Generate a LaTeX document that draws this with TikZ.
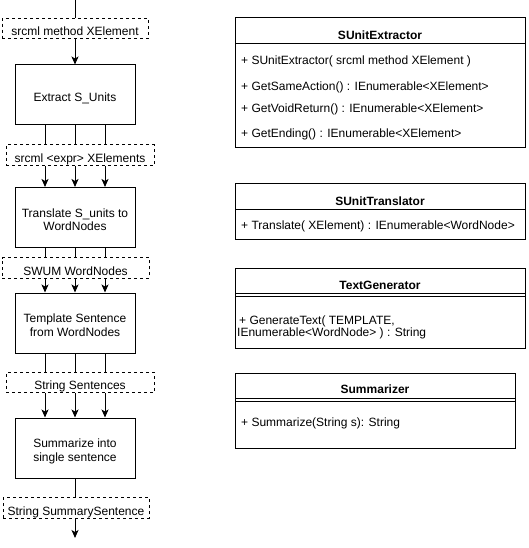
\documentclass[tikz,border=0pt]{standalone}
\usepackage{fontspec}
\setmainfont{Liberation Sans}
\usetikzlibrary{arrows.meta}
\newcommand\uplift{\rule[-3pt]{0pt}{18.5pt}}
\newcommand\downlift{\rule[-3pt]{0pt}{3pt}}
\tikzset{
  stage/.style={draw, line width=1pt, minimum width=120pt, minimum height=60pt, align=center, inner sep=0pt},
  data/.style={draw, line width=1pt, dash pattern=on 3pt off 3pt, inner sep=0pt,
    execute at begin node={\rule[-3pt]{0pt}{20.5pt}}},
  flow/.style={line width=1pt, -{Stealth[length=8pt,width=7pt,inset=2pt]}},
  pipe/.style={line width=1pt},
  klass/.style={draw, line width=1pt, inner sep=0pt},
  member/.style={anchor=west, inner sep=0pt, align=left},
}
\begin{document}
\begin{tikzpicture}[x=1pt, y=-1pt, font=\fontsize{12}{13.5}\selectfont]
            \useasboundingbox (0,0) rectangle (528,548);
            % pipeline
            \coordinate (start) at (75,0);
            \node[data, minimum width=146pt, minimum height=19pt] (in1) at (75,28.5) {srcml method XElement};
            \node[stage] (ext) at (75,95) {\uplift Extract S\_Units\downlift};
            \node[data, minimum width=148pt, minimum height=21pt] (in2) at (80,155.5) {srcml <expr> XElements};
            \node[stage] (trn) at (75,217.5) {\uplift Translate S\_units to\\WordNodes\downlift};
            \node[data, minimum width=147pt, minimum height=20pt] (in3) at (75.5,268) {SWUM WordNodes};
            \node[stage] (tpl) at (75,323) {\uplift Template Sentence\\from WordNodes\downlift};
            \node[data, minimum width=148pt, minimum height=20pt] (in4) at (80,382.5) {String Sentences};
            \node[stage] (sum) at (75,448) {\uplift Summarize into\\single sentence\downlift};
            \node[data, minimum width=146pt, minimum height=20pt] (in5) at (76,508) {String SummarySentence};
            \coordinate (finish) at (75,538);
            \draw[pipe] (start) -- (in1.north -| start);
            \draw[flow] (ext.north |- in1.south) -- (ext.north);
            \foreach \dx in {-30,0,30} {
                \draw[pipe] ([xshift=\dx pt]ext.south) -- ([xshift=\dx pt]ext.south |- in2.north);
                \draw[flow] ([xshift=\dx pt]trn.north |- in2.south) -- ([xshift=\dx pt]trn.north);
                \draw[pipe] ([xshift=\dx pt]trn.south) -- ([xshift=\dx pt]trn.south |- in3.north);
                \draw[flow] ([xshift=\dx pt]tpl.north |- in3.south) -- ([xshift=\dx pt]tpl.north);
                \draw[pipe] ([xshift=\dx pt]tpl.south) -- ([xshift=\dx pt]tpl.south |- in4.north);
                \draw[flow] ([xshift=\dx pt]sum.north |- in4.south) -- ([xshift=\dx pt]sum.north);
            }
            \draw[pipe] (sum.south) -- (sum.south |- in5.north);
            \draw[flow] (finish |- in5.south) -- (finish);
            % classes
            \node[klass, minimum width=290pt, minimum height=130pt] (sue) at (380,83) {};
            \draw[pipe] (235,44) -- (525,44);
            \node[font=\fontsize{12}{14}\selectfont\bfseries] (sueT) at (380,35.5) {SUnitExtractor};
            \node[member] (sue1) at (241,61.5) {+ SUnitExtractor( srcml method XElement )};
            \node[member] (sue2) at (241,87.5) {+ GetSameAction() : IEnumerable<XElement>};
            \node[member] (sue3) at (241,109.5) {+ GetVoidReturn() : IEnumerable<XElement>};
            \node[member] (sue4) at (241,134.5) {+ GetEnding() : IEnumerable<XElement>};
            \node[klass, minimum width=290pt, minimum height=56pt] (sut) at (380,211) {};
            \draw[pipe] (235,209.5) -- (525,209.5);
            \node[font=\fontsize{12}{14}\selectfont\bfseries] (sutT) at (380,201.5) {SUnitTranslator};
            \node[member] (sut1) at (241,226.5) {+ Translate( XElement) : IEnumerable<WordNode>};
            \node[klass, minimum width=290pt, minimum height=80pt] (tgn) at (380,308) {};
            \draw[pipe] (235,293) -- (525,293);
            \draw[pipe] (235,296.5) -- (525,296.5);
            \node[font=\fontsize{12}{14}\selectfont\bfseries] (tgnT) at (380,285.5) {TextGenerator};
            \node[member, font=\fontsize{12}{12.5}\selectfont] (tgn1) at (237,327.5) {\,+ GenerateText( TEMPLATE,\\IEnumerable<WordNode> ) : String};
            \node[klass, minimum width=280pt, minimum height=75pt] (smz) at (375,410.5) {};
            \draw[pipe] (235,398) -- (515,398);
            \draw[pipe] (235,401.5) -- (515,401.5);
            \node[font=\fontsize{12}{14}\selectfont\bfseries] (smzT) at (375,389.5) {Summarizer};
            \node[member] (smz1) at (241,423.5) {+ Summarize(String s): String};
\end{tikzpicture}
\end{document}
